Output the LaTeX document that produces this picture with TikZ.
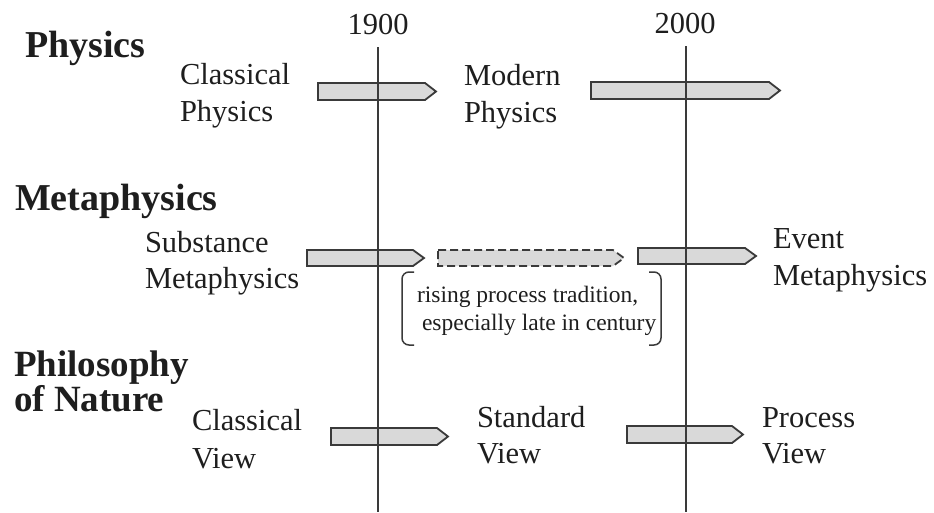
\documentclass[tikz,border=0pt]{standalone}
\usepackage{fontspec}
\setmainfont{Liberation Serif}
\definecolor{ink}{HTML}{1E1E1E}
\definecolor{linegray}{HTML}{3A3A3A}
\definecolor{arrowfill}{HTML}{D9D9D9}
\newcommand\sigarrow[5][]{% [extra style] x1, x2, ytop, ybottom
  \draw[arrowshape,#1] (#2,#4) -- ({#3-11},#4) -- (#3,{(#4+#5)/2}) -- ({#3-11},#5) -- (#2,#5) -- cycle;}
\begin{document}
\begin{tikzpicture}[x=1pt,y=-1pt,
  every node/.style={inner sep=0pt,outer sep=0pt,text=ink},
  heading/.style={anchor=base west,font=\fontsize{38}{38}\selectfont\bfseries},
  label/.style={anchor=base west,font=\fontsize{30.5}{37}\selectfont},
  year/.style={anchor=base,font=\fontsize{30.5}{37}\selectfont},
  note/.style={anchor=base west,font=\fontsize{23.5}{28}\selectfont},
  timeline/.style={draw=linegray,line width=1.6pt},
  arrowshape/.style={draw=linegray,fill=arrowfill,line width=1.8pt,line join=miter},
  bracket/.style={draw=linegray,line width=1.5pt,rounded corners=7pt}]
\useasboundingbox (0,0) rectangle (934,512);
\fill[white] (0,0) rectangle (934,512);

% headings
\node[heading] (hphys) at (25,57) {Physics};
\node[heading] (hmeta) at (15,210) {Metaphysics};
\node[heading,font=\fontsize{37}{37}\selectfont\bfseries] (hphil1) at (14,376) {Philosophy};
\node[heading,font=\fontsize{37}{37}\selectfont\bfseries] (hphil2) at (14,411) {of Nature};

% years
\node[year] (y1900) at (378,34) {1900};
\node[year] (y2000) at (685,33) {2000};
\coordinate (t1900) at (378,47);
\coordinate (b1900) at (378,512);
\coordinate (t2000) at (686,46);
\coordinate (b2000) at (686,512);

% arrows
\sigarrow{318}{436}{83}{100}
\sigarrow{591}{780}{82}{99}
\sigarrow{307}{424}{250}{266}
\sigarrow[dash pattern=on 8pt off 4pt]{438}{624}{250}{266}
\sigarrow{638}{756}{248}{264}
\sigarrow{331}{448}{428}{445}
\sigarrow{627}{743}{426}{443}

% timelines
\draw[timeline] (t1900) -- (b1900);
\draw[timeline] (t2000) -- (b2000);

% labels
\node[label] (cp1) at (180,84) {Classical};
\node[label] (cp2) at (180,121) {Physics};
\node[label] (mp1) at (464,85) {Modern};
\node[label] (mp2) at (464,122) {Physics};
\node[label] (sm1) at (145,252) {Substance};
\node[label] (sm2) at (145,288) {Metaphysics};
\node[label] (em1) at (773,248) {Event};
\node[label] (em2) at (773,285) {Metaphysics};
\node[label] (cv1) at (192,430) {Classical};
\node[label] (cv2) at (192,468) {View};
\node[label] (sv1) at (477,427) {Standard};
\node[label] (sv2) at (477,463) {View};
\node[label] (pv1) at (762,427) {Process};
\node[label] (pv2) at (762,463) {View};

% bracketed note
\node[note] (n1) at (417,302) {rising process tradition,};
\node[note] (n2) at (422,330) {especially late in century};
\draw[bracket] (414,272) -- (402,272) -- (402,345) -- (414,345);
\draw[bracket] (649,272) -- (661,272) -- (661,345) -- (649,345);
\end{tikzpicture}
\end{document}
